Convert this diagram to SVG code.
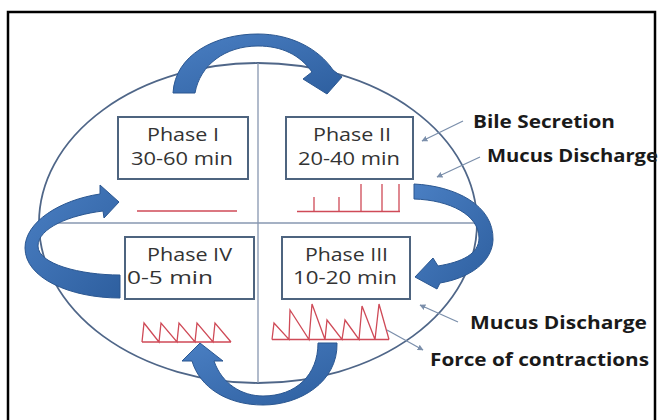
<svg xmlns="http://www.w3.org/2000/svg" width="663" height="420" viewBox="0 0 663 420">
<defs>
<style>
.frame{fill:none;stroke:#000;stroke-width:2.5}
.div{stroke:#8797b0;stroke-width:1.3;fill:none}
.ell{fill:none;stroke:#4f6688;stroke-width:1.8}
.box{fill:#fff;stroke:#4e647f;stroke-width:2}
.bt{font-family:"Open Sans","DejaVu Sans",sans-serif;font-size:18px;fill:#333}
.lab{font-family:"Open Sans","DejaVu Sans",sans-serif;font-size:17px;font-weight:bold;fill:#1a1a1a}
.red{fill:none;stroke:#cf4a57;stroke-width:1.3;stroke-linejoin:miter}
.big{fill:url(#bg);stroke:#2b5791;stroke-width:1}
.ptr{stroke:#7b8fab;stroke-width:1.3;fill:none;marker-end:url(#ah)}
</style>
<linearGradient id="bg" x1="0" y1="0" x2="1" y2="1">
<stop offset="0" stop-color="#4a7fc3"/>
<stop offset="1" stop-color="#2e5f9f"/>
</linearGradient>
<marker id="ah" viewBox="0 0 10 10" refX="9" refY="5" markerWidth="6" markerHeight="6" orient="auto" markerUnits="userSpaceOnUse">
<path d="M0,0 L10,5 L0,10 z" fill="#7b8fab"/>
</marker>
</defs>
<rect width="663" height="420" fill="#fff"/>
<rect class="frame" x="8" y="12" width="647" height="420"/>

<g id="cycle">
<ellipse class="ell" cx="258" cy="223" rx="219" ry="160"/>
<line class="div" x1="258" y1="63" x2="258" y2="383"/>
<line class="div" x1="39" y1="223" x2="477" y2="223"/>
</g>

<g id="phase1">
<rect class="box" x="118" y="117" width="130" height="62"/>
<text class="bt" x="147" y="141" textLength="72" lengthAdjust="spacingAndGlyphs">Phase I</text>
<text class="bt" x="131" y="165" textLength="102" lengthAdjust="spacingAndGlyphs">30-60 min</text>
<line class="red" x1="137" y1="211" x2="237" y2="211"/>
</g>

<g id="phase2">
<rect class="box" x="286" y="117" width="127" height="62"/>
<text class="bt" x="313" y="141" textLength="78" lengthAdjust="spacingAndGlyphs">Phase II</text>
<text class="bt" x="298" y="165" textLength="102" lengthAdjust="spacingAndGlyphs">20-40 min</text>
<path class="red" d="M297,211.5 H400 M314,211.5 V197 M339,211.5 V197 M361,211.5 V184 M382,211.5 V184 M399,211.5 V184"/>
</g>

<g id="phase4">
<rect class="box" x="125" y="237" width="129" height="62"/>
<text class="bt" x="147" y="261" textLength="85" lengthAdjust="spacingAndGlyphs">Phase IV</text>
<text class="bt" x="127" y="284" textLength="86" lengthAdjust="spacingAndGlyphs">0-5 min</text>
<path class="red" d="M142,342 H231 M142,342 L144,323 L159,342 L161,323 L177,342 L179,323 L195,342 L197,323 L213,342 L215,323 L231,342"/>
</g>

<g id="phase3">
<rect class="box" x="282" y="237" width="128" height="62"/>
<text class="bt" x="305" y="261" textLength="83" lengthAdjust="spacingAndGlyphs">Phase III</text>
<text class="bt" x="293" y="284" textLength="104" lengthAdjust="spacingAndGlyphs">10-20 min</text>
<path class="red" d="M272,339.5 H389 M272,339.5 L274,323 L289,339.5 L290,310 L309,339.5 L312,304 L325,339.5 L327,320 L342,339.5 L345,320 L359,339.5 L362,306 L375,339.5 L379,304 L389,339.5"/>
</g>

<g id="connectors">
<path class="big" d="M173,93 C175,55 215,34 258,34 C290,34 318,48 333,70 L342,77 L327,94 L303,79 L312,72 C300,55 282,46 258,46 C225,46 200,65 195,93 Z"/>
<path class="big" d="M414,184 C455,186 494,205 493,240 C492,262 470,278 440,283 L437,289 L415,277 L433,258 L438,266 C462,262 479,254 479,238 C479,215 450,200 414,199 Z"/>
<path class="big" d="M318,343 L337,343 C338,382 300,405 263,405 C228,405 200,388 192,361 L182,361 L200,343 L223,361 L214,361 C222,384 242,396 263,396 C296,396 318,375 318,343 Z"/>
<path class="big" d="M120,298 C70,298 25,278 25,248 C25,222 60,200 100,194 L100,185 L119,202 L104,218 L103,211 C70,215 38,228 38,246 C38,264 80,275 120,275 Z"/>
<line class="ptr" x1="463" y1="121" x2="422" y2="141"/>
<line class="ptr" x1="480" y1="157" x2="437" y2="177"/>
<line class="ptr" x1="458" y1="322" x2="420" y2="305"/>
<line class="ptr" x1="387" y1="330" x2="423" y2="350"/>
</g>

<g id="labels">
<text class="lab" x="473" y="128" textLength="142" lengthAdjust="spacingAndGlyphs">Bile Secretion</text>
<text class="lab" x="487" y="162" textLength="171" lengthAdjust="spacingAndGlyphs">Mucus Discharge</text>
<text class="lab" x="470" y="329" textLength="177" lengthAdjust="spacingAndGlyphs">Mucus Discharge</text>
<text class="lab" x="430" y="366" textLength="219" lengthAdjust="spacingAndGlyphs">Force of contractions</text>
</g>
</svg>
